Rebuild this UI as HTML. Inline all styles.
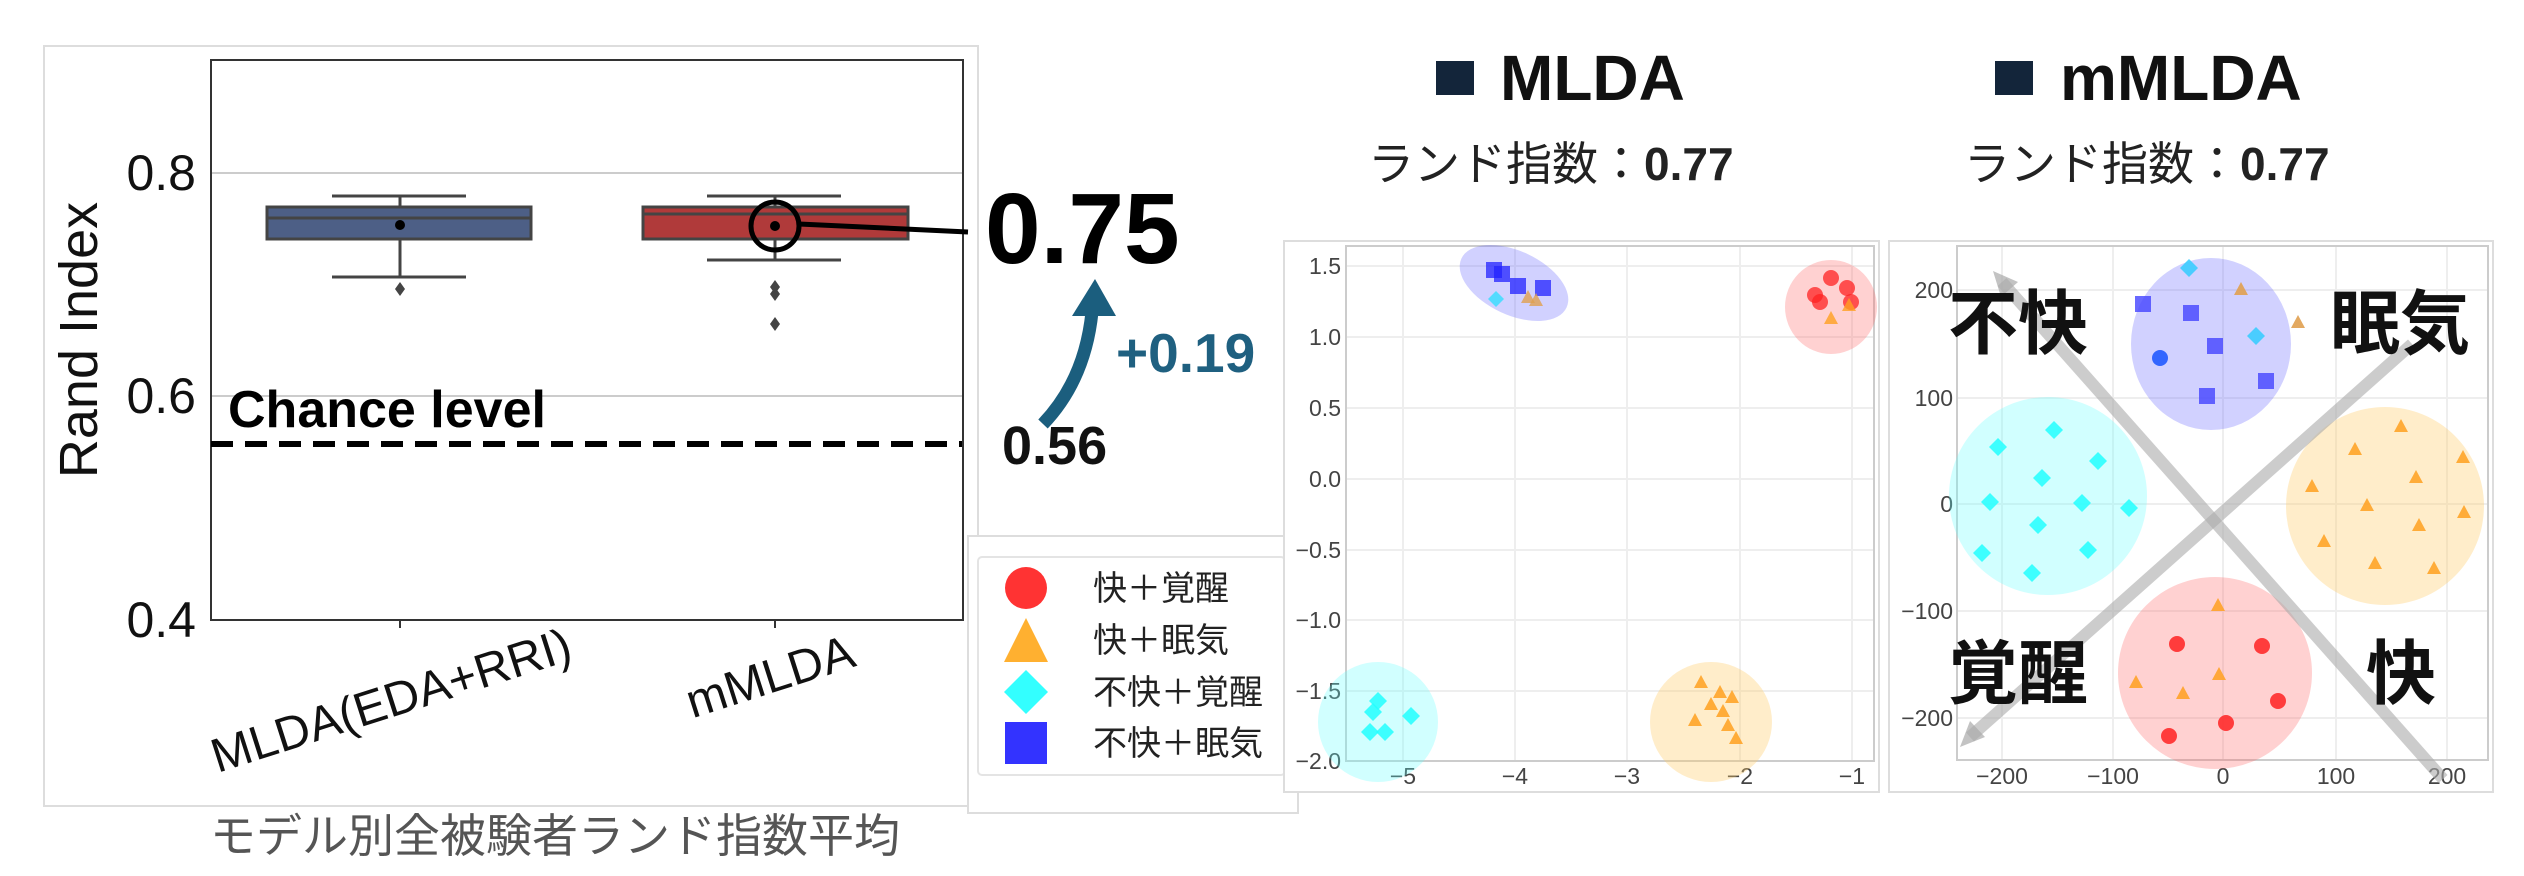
<!DOCTYPE html>
<html><head><meta charset="utf-8"><style>
html,body{margin:0;padding:0;background:#fff;}
svg{display:block;}
text{font-family:"Liberation Sans","Noto Sans CJK JP",sans-serif;}
.j{font-family:"Liberation Sans","Noto Sans CJK JP",sans-serif;}
</style></head><body>
<svg width="2524" height="876" viewBox="0 0 2524 876" xmlns="http://www.w3.org/2000/svg">
<!-- left panel -->
<rect x="44" y="46" width="934" height="760" fill="#fff" stroke="#ddd" stroke-width="2"/>
<line x1="211" y1="173" x2="963" y2="173" stroke="#ccc" stroke-width="2"/>
<line x1="211" y1="396" x2="963" y2="396" stroke="#ccc" stroke-width="2"/>
<rect x="211" y="60" width="752" height="560" fill="none" stroke="#333" stroke-width="2"/>
<line x1="400" y1="620" x2="400" y2="628" stroke="#333" stroke-width="2"/>
<line x1="775" y1="620" x2="775" y2="628" stroke="#333" stroke-width="2"/>
<g font-size="50" fill="#111" text-anchor="end">
<text x="196" y="190">0.8</text><text x="196" y="413">0.6</text><text x="196" y="637">0.4</text>
</g>
<text transform="translate(97,340) rotate(-90)" font-size="54" text-anchor="middle" fill="#111">Rand Index</text>
<!-- box 1 -->
<g stroke="#444" stroke-width="3">
<line x1="400" y1="196" x2="400" y2="207"/><line x1="400" y1="239" x2="400" y2="277"/>
<line x1="332" y1="196" x2="466" y2="196"/><line x1="332" y1="277" x2="466" y2="277"/>
<rect x="267" y="207" width="264" height="32" fill="#4d5f86"/>
<line x1="267" y1="218" x2="531" y2="218"/>
<line x1="775" y1="196" x2="775" y2="207"/><line x1="775" y1="239" x2="775" y2="260"/>
<line x1="707" y1="196" x2="841" y2="196"/><line x1="707" y1="260" x2="841" y2="260"/>
<rect x="643" y="207" width="265" height="32" fill="#b03a3a"/>
<line x1="643" y1="214" x2="908" y2="214"/>
</g>
<g fill="#444">
<path d="M400 282 l5 7 -5 7 -5 -7z"/>
<path d="M775 280 l5 7 -5 7 -5 -7z"/><path d="M775 287 l5 7 -5 7 -5 -7z"/><path d="M775 317 l5 7 -5 7 -5 -7z"/>
</g>
<circle cx="400" cy="225" r="5" fill="#000"/>
<circle cx="775" cy="226" r="5" fill="#000"/>
<circle cx="775" cy="226" r="24" fill="none" stroke="#000" stroke-width="5"/>
<line x1="799" y1="224" x2="968" y2="232" stroke="#000" stroke-width="5"/>
<line x1="211" y1="444" x2="962" y2="444" stroke="#000" stroke-width="6" stroke-dasharray="22,12"/>
<text x="228" y="427" font-size="52" font-weight="bold" fill="#000">Chance level</text>
<text transform="translate(396,716) rotate(-17.7)" font-size="48" text-anchor="middle" fill="#111">MLDA(EDA+RRI)</text>
<text transform="translate(775,692) rotate(-17.7)" font-size="48" text-anchor="middle" fill="#111">mMLDA</text>
<text x="555" y="852" font-size="46" text-anchor="middle" fill="#555" class="j">モデル別全被験者ランド指数平均</text>
<!-- annotations -->
<text x="985" y="263" font-size="100" font-weight="bold" fill="#000">0.75</text>
<path d="M1043 424 Q1085 380 1092 312" stroke="#1b5e7e" stroke-width="13" fill="none"/>
<path d="M1072 316 L1116 316 L1095 279 Z" fill="#1b5e7e"/>
<text x="1116" y="372" font-size="55" font-weight="bold" fill="#1f6080">+0.19</text>
<text x="1002" y="464" font-size="54" font-weight="bold" fill="#111">0.56</text>
<!-- legend -->
<rect x="968" y="536" width="330" height="277" fill="#fff" stroke="#ddd" stroke-width="2"/>
<rect x="978" y="557" width="307" height="218" rx="4" fill="#fff" stroke="#e4e4e4" stroke-width="2"/>
<circle cx="1026" cy="588" r="21" fill="#ff3333"/>
<path d="M1026 618 L1048 662 L1004 662 Z" fill="#ffb030"/>
<path d="M1026 670 L1048 692 L1026 714 L1004 692 Z" fill="#33ffff"/>
<rect x="1005" y="722" width="42" height="42" fill="#3333ff"/>
<g font-size="34" fill="#222" class="j">
<text x="1093" y="600">快＋覚醒</text><text x="1093" y="652">快＋眠気</text>
<text x="1093" y="704">不快＋覚醒</text><text x="1093" y="755">不快＋眠気</text>
</g>
<!-- titles -->
<rect x="1436" y="61" width="38" height="34" fill="#13253a"/>
<text x="1500" y="100" font-size="64" font-weight="bold" fill="#111">MLDA</text>
<text x="1368" y="180" font-size="46" fill="#222" class="j">ランド指数：<tspan font-weight="bold">0.77</tspan></text>
<rect x="1995" y="61" width="38" height="34" fill="#13253a"/>
<text x="2060" y="100" font-size="64" font-weight="bold" fill="#111">mMLDA</text>
<text x="1964" y="180" font-size="46" fill="#222" class="j">ランド指数：<tspan font-weight="bold">0.77</tspan></text>
<!-- scatter 1 -->
<rect x="1284" y="241" width="595" height="551" fill="#fff" stroke="#ddd" stroke-width="2"/>
<g stroke="#eee" stroke-width="2">
<line x1="1403" y1="246" x2="1403" y2="761"/><line x1="1515" y1="246" x2="1515" y2="761"/><line x1="1627" y1="246" x2="1627" y2="761"/><line x1="1740" y1="246" x2="1740" y2="761"/><line x1="1852" y1="246" x2="1852" y2="761"/>
<line x1="1346" y1="266" x2="1874" y2="266"/><line x1="1346" y1="337" x2="1874" y2="337"/><line x1="1346" y1="408" x2="1874" y2="408"/><line x1="1346" y1="479" x2="1874" y2="479"/><line x1="1346" y1="550" x2="1874" y2="550"/><line x1="1346" y1="620" x2="1874" y2="620"/><line x1="1346" y1="691" x2="1874" y2="691"/>
</g>
<rect x="1346" y="246" width="528" height="515" fill="none" stroke="#ccc" stroke-width="2"/>
<g font-size="23" fill="#444" text-anchor="end">
<text x="1341" y="274">1.5</text><text x="1341" y="345">1.0</text><text x="1341" y="416">0.5</text><text x="1341" y="487">0.0</text><text x="1341" y="558">−0.5</text><text x="1341" y="628">−1.0</text><text x="1341" y="699">−1.5</text><text x="1341" y="769">−2.0</text>
</g>
<g font-size="23" fill="#444" text-anchor="middle">
<text x="1403" y="784">−5</text><text x="1515" y="784">−4</text><text x="1627" y="784">−3</text><text x="1740" y="784">−2</text><text x="1852" y="784">−1</text>
</g>
<ellipse cx="1514" cy="283" rx="58" ry="32" transform="rotate(25 1514 283)" fill="#6666ff" fill-opacity="0.3"/>
<ellipse cx="1831" cy="307" rx="46" ry="47" fill="#ff6666" fill-opacity="0.3"/>
<ellipse cx="1378" cy="722" rx="60" ry="60" fill="#66ffff" fill-opacity="0.3"/>
<ellipse cx="1711" cy="722" rx="61" ry="60" fill="#ffcc66" fill-opacity="0.35"/>
<g fill="#2222ff" fill-opacity="0.75">
<rect x="1486" y="262" width="16" height="16"/><rect x="1494" y="266" width="16" height="16"/><rect x="1510" y="278" width="16" height="16"/><rect x="1535" y="280" width="16" height="16"/>
</g>
<path d="M1496 291 l8 8 -8 8 -8 -8z" fill="#33ddff" fill-opacity="0.8"/>
<g fill="#e0a050" fill-opacity="0.8"><path d="M1528 290 l7 13 -14 0z"/><path d="M1536 293 l7 13 -14 0z"/></g>
<g fill="#ff2222" fill-opacity="0.75">
<circle cx="1831" cy="278" r="8"/><circle cx="1815" cy="295" r="8"/><circle cx="1847" cy="288" r="8"/><circle cx="1820" cy="302" r="8"/><circle cx="1851" cy="302" r="8"/>
</g>
<g fill="#ffa020" fill-opacity="0.8"><path d="M1831 311 l7 13 -14 0z"/><path d="M1849 298 l7 13 -14 0z"/></g>
<g fill="#22ffff" fill-opacity="0.85">
<path d="M1378 692 l9 9 -9 9 -9 -9z"/><path d="M1373 703 l9 9 -9 9 -9 -9z"/><path d="M1411 707 l9 9 -9 9 -9 -9z"/><path d="M1370 723 l9 9 -9 9 -9 -9z"/><path d="M1385 723 l9 9 -9 9 -9 -9z"/>
</g>
<g fill="#ffa020" fill-opacity="0.85">
<path d="M1701 675 l7 13 -14 0z"/><path d="M1720 685 l7 13 -14 0z"/><path d="M1732 690 l7 13 -14 0z"/><path d="M1711 697 l7 13 -14 0z"/><path d="M1723 704 l7 13 -14 0z"/><path d="M1695 713 l7 13 -14 0z"/><path d="M1728 718 l7 13 -14 0z"/><path d="M1736 731 l7 13 -14 0z"/>
</g>
<!-- scatter 2 -->
<rect x="1889" y="241" width="604" height="551" fill="#fff" stroke="#ddd" stroke-width="2"/>
<g stroke="#eee" stroke-width="2">
<line x1="2002" y1="246" x2="2002" y2="760"/><line x1="2113" y1="246" x2="2113" y2="760"/><line x1="2223" y1="246" x2="2223" y2="760"/><line x1="2336" y1="246" x2="2336" y2="760"/><line x1="2447" y1="246" x2="2447" y2="760"/>
<line x1="1957" y1="290" x2="2488" y2="290"/><line x1="1957" y1="398" x2="2488" y2="398"/><line x1="1957" y1="504" x2="2488" y2="504"/><line x1="1957" y1="611" x2="2488" y2="611"/><line x1="1957" y1="718" x2="2488" y2="718"/>
</g>
<rect x="1957" y="246" width="531" height="514" fill="none" stroke="#ccc" stroke-width="2"/>
<g font-size="23" fill="#444" text-anchor="end">
<text x="1953" y="298">200</text><text x="1953" y="406">100</text><text x="1953" y="512">0</text><text x="1953" y="619">−100</text><text x="1953" y="726">−200</text>
</g>
<g font-size="23" fill="#444" text-anchor="middle">
<text x="2002" y="784">−200</text><text x="2113" y="784">−100</text><text x="2223" y="784">0</text><text x="2336" y="784">100</text><text x="2447" y="784">200</text>
</g>
<ellipse cx="2211" cy="344" rx="80" ry="86" fill="#6666ff" fill-opacity="0.3"/>
<ellipse cx="2048" cy="496" rx="99" ry="99" fill="#66ffff" fill-opacity="0.3"/>
<ellipse cx="2385" cy="506" rx="99" ry="99" fill="#ffcc66" fill-opacity="0.35"/>
<ellipse cx="2215" cy="673" rx="97" ry="96" fill="#ff6666" fill-opacity="0.3"/>
<g stroke="#aaa" stroke-opacity="0.6" stroke-width="12" fill="none">
<line x1="2443" y1="779" x2="2002" y2="282"/>
<line x1="2412" y1="344" x2="1970" y2="737"/>
</g>
<path d="M1993 271 L2018 282 L2001 297 Z" fill="#aaa" fill-opacity="0.7"/>
<path d="M1960 747 L1970 721 L1985 737 Z" fill="#aaa" fill-opacity="0.7"/>
<g fill="#4444ff" fill-opacity="0.8">
<rect x="2135" y="296" width="16" height="16"/><rect x="2183" y="305" width="16" height="16"/><rect x="2207" y="338" width="16" height="16"/><rect x="2258" y="373" width="16" height="16"/><rect x="2199" y="388" width="16" height="16"/>
</g>
<circle cx="2160" cy="358" r="8" fill="#3366ff"/>
<g fill="#33ccff" fill-opacity="0.85"><path d="M2189 259 l9 9 -9 9 -9 -9z"/><path d="M2256 327 l9 9 -9 9 -9 -9z"/></g>
<g fill="#e0a050" fill-opacity="0.9"><path d="M2241 282 l7 13 -14 0z"/><path d="M2298 315 l7 13 -14 0z"/></g>
<g fill="#22ffff" fill-opacity="0.85">
<path d="M2054 421 l9 9 -9 9 -9 -9z"/><path d="M1998 438 l9 9 -9 9 -9 -9z"/><path d="M2098 452 l9 9 -9 9 -9 -9z"/><path d="M2042 469 l9 9 -9 9 -9 -9z"/><path d="M1990 493 l9 9 -9 9 -9 -9z"/><path d="M2082 494 l9 9 -9 9 -9 -9z"/><path d="M2038 516 l9 9 -9 9 -9 -9z"/><path d="M2129 499 l9 9 -9 9 -9 -9z"/><path d="M2088 541 l9 9 -9 9 -9 -9z"/><path d="M1982 544 l9 9 -9 9 -9 -9z"/><path d="M2032 564 l9 9 -9 9 -9 -9z"/>
</g>
<g fill="#ffa020" fill-opacity="0.85">
<path d="M2401 419 l7 13 -14 0z"/><path d="M2355 442 l7 13 -14 0z"/><path d="M2463 450 l7 13 -14 0z"/><path d="M2416 470 l7 13 -14 0z"/><path d="M2312 479 l7 13 -14 0z"/><path d="M2367 498 l7 13 -14 0z"/><path d="M2464 505 l7 13 -14 0z"/><path d="M2419 518 l7 13 -14 0z"/><path d="M2324 534 l7 13 -14 0z"/><path d="M2375 556 l7 13 -14 0z"/><path d="M2434 561 l7 13 -14 0z"/>
<path d="M2218 598 l7 13 -14 0z"/><path d="M2136 675 l7 13 -14 0z"/><path d="M2183 686 l7 13 -14 0z"/><path d="M2219 667 l7 13 -14 0z"/>
</g>
<g fill="#ff2222" fill-opacity="0.85">
<circle cx="2177" cy="644" r="8"/><circle cx="2262" cy="646" r="8"/><circle cx="2278" cy="701" r="8"/><circle cx="2226" cy="723" r="8"/><circle cx="2169" cy="736" r="8"/>
</g>
<g font-size="70" font-weight="bold" fill="#111" class="j">
<text x="1948" y="348">不快</text><text x="2330" y="348">眠気</text>
<text x="1948" y="698">覚醒</text><text x="2366" y="698">快</text>
</g>
</svg>
</body></html>
